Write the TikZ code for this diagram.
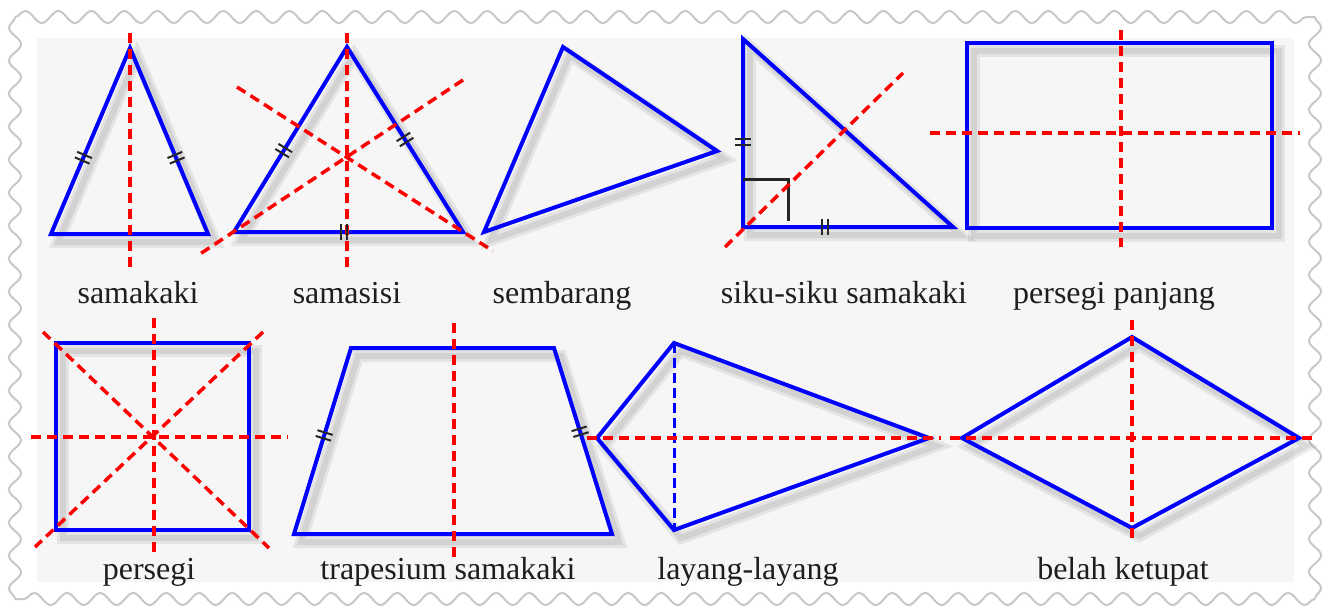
\documentclass[tikz,border=0pt]{standalone}
\usepackage{fontspec}
\setmainfont{Liberation Serif}
\usepackage{tikz}
\usetikzlibrary{decorations.pathmorphing, decorations.markings}
\definecolor{PanelGray}{RGB}{246,246,246}
\definecolor{StampGray}{RGB}{200,200,200}
\definecolor{ShapeBlue}{RGB}{0,0,255}
\definecolor{AxisRed}{RGB}{255,0,0}
\definecolor{TextGray}{RGB}{30,30,30}

\begin{document}
\begin{tikzpicture}[
    x=1pt, y=-1pt,
    figure/.style={draw=ShapeBlue, line width=4pt, line join=miter,
                   preaction={draw=black, opacity=0.07, line width=12pt,
                              transform canvas={shift={(7pt,-8pt)}}},
                   preaction={draw=black, opacity=0.08, line width=6pt,
                              transform canvas={shift={(7pt,-8pt)}}}},
    axis/.style={draw=AxisRed, line width=3.5pt, dash pattern=on 10pt off 6pt},
    diag/.style={draw=ShapeBlue, line width=3pt, dash pattern=on 10pt off 5pt},
    tickpair/.style={postaction={decorate, decoration={markings,
        mark=at position #1 with {\draw[black!85, line width=2pt] (-3pt,-8pt) -- (-3pt,8pt) (3pt,-8pt) -- (3pt,8pt);}}}},
    rightangle/.style={draw=black!85, line width=3pt},
    caption/.style={anchor=base, text=TextGray, font=\fontsize{32}{38}\selectfont},
    stamp/.style={draw=StampGray, line width=2pt, decorate,
                  decoration={snake, segment length=33pt, amplitude=6pt}}
]
\useasboundingbox (0,0) rectangle (1329,608);
\fill[white] (0,0) rectangle (1329,608);

\draw[stamp] (15,17) -- (1315,17);
\draw[stamp] (1315,17) -- (1315,599);
\draw[stamp] (1315,599) -- (15,599);
\draw[stamp] (15,599) -- (15,17);
\fill[PanelGray] (37,38) rectangle (1294,582);

\coordinate (ka) at (130,48);
\coordinate (kb) at (51,234);
\coordinate (kc) at (208,234);
\draw[figure] (ka) -- (kb) -- (kc) -- cycle;
\draw[axis] (130,33) -- (130,270);
\path[tickpair=0.59] (ka) -- (kb);
\path[tickpair=0.59] (ka) -- (kc);

\coordinate (sa) at (347,47);
\coordinate (sb) at (234,232);
\coordinate (sc) at (463,232);
\draw[figure] (sa) -- (sb) -- (sc) -- cycle;
\draw[axis] (347,33) -- (347,273);
\draw[axis] (237,87) -- (493,251);
\draw[axis] (463,80) -- (200,254);
\path[tickpair=0.56] (sa) -- (sb);
\path[tickpair=0.50] (sa) -- (sc);
\path[tickpair=0.48] (sb) -- (sc);

\coordinate (ba) at (563,47);
\coordinate (bb) at (717,151);
\coordinate (bc) at (484,232);
\draw[figure] (ba) -- (bb) -- (bc) -- cycle;

\coordinate (ra) at (743,39);
\coordinate (rb) at (743,227);
\coordinate (rc) at (953,227);
\draw[figure] (ra) -- (rb) -- (rc) -- cycle;
\draw[rightangle] (743,179) -- (788,179) -- (788,221);
\draw[axis] (725,247) -- (903,73);
\path[tickpair=0.55] (ra) -- (rb);
\path[tickpair=0.39] (rb) -- (rc);

\coordinate (pa) at (967,43);
\coordinate (pc) at (1272,228);
\draw[figure] (pa) rectangle (pc);
\draw[axis] (1121,30) -- (1121,247);
\draw[axis] (930,133) -- (1300,133);

\coordinate (qa) at (56,343);
\coordinate (qc) at (249,530);
\draw[figure] (qa) rectangle (qc);
\draw[axis] (154,318) -- (154,553);
\draw[axis] (31,437) -- (288,437);
\draw[axis] (43,332) -- (269,548);
\draw[axis] (263,332) -- (35,547);

\coordinate (ta) at (351,348);
\coordinate (tb) at (554,348);
\coordinate (tc) at (612,534);
\coordinate (td) at (294,534);
\draw[figure] (ta) -- (tb) -- (tc) -- (td) -- cycle;
\draw[axis] (454,323) -- (454,558);
\path[tickpair=0.47] (ta) -- (td);
\path[tickpair=0.45] (tb) -- (tc);

\coordinate (la) at (597,438);
\coordinate (lb) at (674,343);
\coordinate (lc) at (929,438);
\coordinate (ld) at (674,530);
\draw[figure] (la) -- (lb) -- (lc) -- (ld) -- cycle;
\draw[diag] (lb) -- (ld);
\draw[axis] (587,438) -- (941,438);

\coordinate (ea) at (962,438);
\coordinate (eb) at (1132,337);
\coordinate (ec) at (1299,438);
\coordinate (ed) at (1132,528);
\draw[figure] (ea) -- (eb) -- (ec) -- (ed) -- cycle;
\draw[axis] (1132,320) -- (1132,540);
\draw[axis] (950,438) -- (1313,438);

\node[caption] (samakaki) at (138,303) {samakaki};
\node[caption] (samasisi) at (347,303) {samasisi};
\node[caption] (sembarang) at (562,303) {sembarang};
\node[caption] (sikusiku) at (844,303) {siku-siku samakaki};
\node[caption] (panjang) at (1114,303) {persegi panjang};
\node[caption] (persegi) at (149,579) {persegi};
\node[caption] (trapesium) at (448,579) {trapesium samakaki};
\node[caption] (layang) at (748,579) {layang-layang};
\node[caption] (ketupat) at (1123,579) {belah ketupat};
\end{tikzpicture}
\end{document}
